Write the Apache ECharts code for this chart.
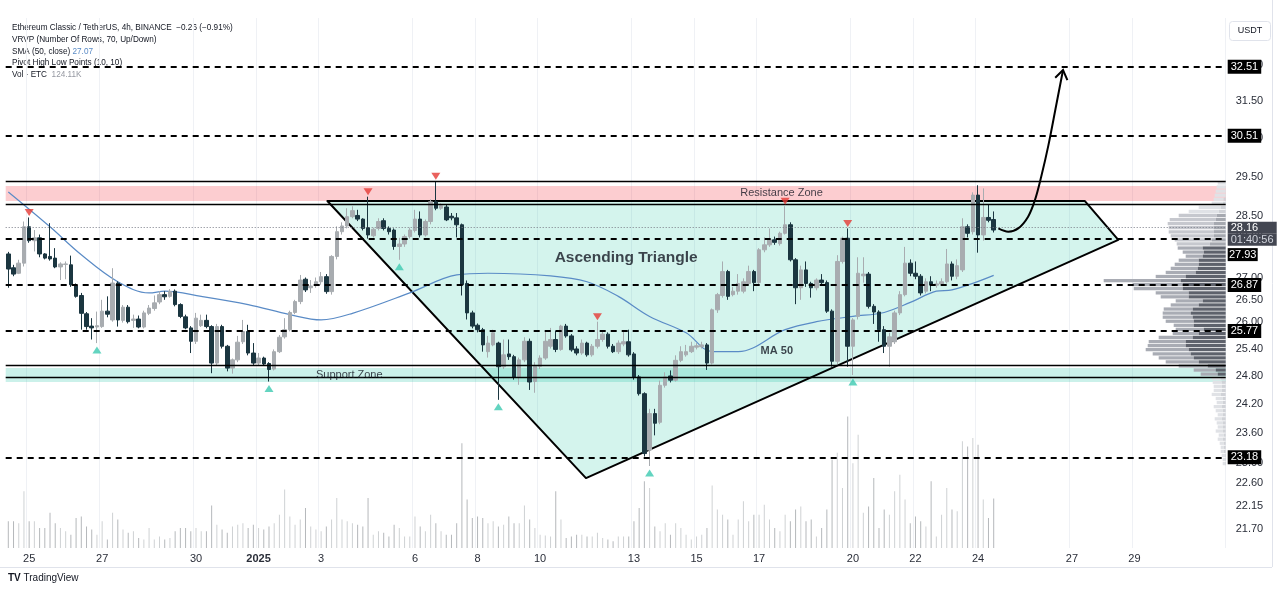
<!DOCTYPE html>
<html>
<head>
<meta charset="utf-8">
<title>ETCUSDT 4h - Ascending Triangle</title>
<script src="https://cdn.jsdelivr.net/npm/echarts@6/dist/echarts.min.js"></script>
<style>
  html, body { margin: 0; padding: 0; background: #fff; }
  #chart { width: 1280px; height: 592px; }
</style>
</head>
<body>
<div id="chart"></div>
<script>
// 4h candles, the first one opens 2024-12-24 00:00
const opens = [
  27.58, 27.25, 27.12, 27.36, 28.24, 27.90, 27.97, 27.58, 27.52, 27.48,
  27.27, 27.33, 27.32, 26.83, 26.60, 26.18, 25.90, 25.88, 25.89, 26.24,
  26.04, 26.89, 26.03, 26.33, 26.03, 26.06, 25.88, 26.19, 26.30, 26.45,
  26.62, 26.58, 26.70, 26.39, 26.11, 25.86, 25.56, 25.91, 26.03, 25.89,
  25.08, 25.89, 25.45, 24.97, 25.15, 25.55, 25.78, 25.30, 25.08, 25.19,
  25.07, 24.95, 25.33, 25.66, 25.82, 26.21, 26.46, 26.98, 26.78, 26.83,
  26.92, 27.04, 26.69, 27.52, 28.12, 28.26, 28.49, 28.52, 28.43, 28.22,
  28.02, 28.20, 28.39, 28.20, 28.16, 27.76, 27.82, 28.00, 28.15, 28.43,
  28.04, 28.37, 28.86, 28.70, 28.73, 28.50, 28.46, 28.29, 26.88, 26.20,
  25.92, 25.82, 25.33, 25.48, 25.52, 25.00, 25.28, 25.22, 24.78, 25.15,
  25.56, 24.68, 25.01, 25.19, 25.45, 25.60, 25.38, 25.90, 25.68, 25.39,
  25.30, 25.52, 25.26, 25.45, 25.60, 25.72, 25.45, 25.33, 25.50, 25.55,
  25.28, 24.78, 24.42, 23.25, 24.00, 23.82, 24.60, 24.80, 24.71, 25.14,
  25.26, 25.33, 25.43, 25.44, 25.48, 25.08, 26.27, 26.60, 27.16, 26.62,
  26.70, 26.70, 26.88, 27.16, 26.90, 27.68, 27.80, 27.92, 27.83, 28.08,
  28.29, 27.44, 26.78, 27.20, 26.88, 26.78, 26.96, 26.90, 26.24, 25.12,
  27.40, 27.96, 25.45, 26.12, 27.06, 27.10, 26.35, 26.22, 25.82, 25.45,
  25.55, 26.20, 26.62, 27.36, 27.12, 27.05, 26.70, 26.92, 26.84, 26.87,
  26.92, 27.34, 27.05, 27.20, 28.24, 28.12, 29.03, 28.04, 28.47, 28.42
];
const highs = [
  27.63, 27.32, 27.44, 28.37, 28.47, 28.16, 28.05, 27.60, 28.33, 27.72,
  27.38, 27.40, 27.54, 26.88, 26.66, 26.22, 26.08, 26.23, 26.50, 26.58,
  27.24, 26.93, 26.38, 26.38, 26.16, 26.14, 26.25, 26.38, 26.60, 26.70,
  26.70, 26.75, 26.74, 26.42, 26.16, 25.90, 26.20, 26.16, 26.16, 25.92,
  25.95, 25.93, 25.48, 25.18, 25.68, 26.04, 25.93, 25.52, 25.30, 25.22,
  25.10, 25.38, 25.70, 26.08, 26.25, 26.50, 27.08, 27.02, 26.96, 27.02,
  27.15, 27.10, 27.55, 28.25, 28.35, 28.70, 28.75, 28.66, 28.45, 28.99,
  28.22, 28.45, 28.45, 28.25, 28.20, 27.97, 28.05, 28.22, 28.66, 28.62,
  28.42, 28.92, 29.38, 28.82, 28.78, 28.58, 28.58, 28.32, 26.95, 26.25,
  25.96, 25.86, 25.68, 25.82, 25.55, 25.60, 25.60, 25.26, 25.20, 25.65,
  25.62, 25.10, 25.25, 25.77, 25.86, 25.80, 25.93, 25.95, 25.72, 25.45,
  25.60, 25.55, 25.50, 26.00, 25.78, 25.76, 25.50, 25.58, 25.78, 25.82,
  25.32, 24.82, 24.45, 24.10, 24.10, 24.70, 24.88, 24.92, 25.25, 25.45,
  25.48, 25.55, 25.52, 25.55, 25.52, 26.30, 26.66, 27.40, 27.20, 26.80,
  27.10, 27.00, 27.30, 27.20, 27.72, 27.98, 28.20, 28.00, 28.12, 28.75,
  28.35, 27.48, 27.30, 27.40, 26.92, 27.00, 27.10, 26.95, 26.28, 27.55,
  28.00, 28.20, 26.08, 27.50, 27.50, 27.15, 26.40, 26.26, 25.90, 25.75,
  26.25, 26.70, 27.75, 27.45, 27.40, 27.10, 27.00, 27.05, 26.95, 27.00,
  27.70, 27.40, 27.45, 28.45, 28.30, 29.10, 29.28, 29.20, 28.80, 28.62
];
const lows = [
  26.78, 27.05, 27.10, 27.28, 27.85, 27.64, 27.50, 27.45, 27.42, 27.24,
  26.96, 26.98, 26.80, 26.55, 25.82, 25.82, 25.60, 25.52, 25.86, 26.10,
  26.00, 25.89, 25.98, 25.96, 25.86, 25.85, 25.85, 26.15, 26.25, 26.40,
  26.50, 26.55, 26.35, 26.08, 25.83, 25.30, 25.50, 25.88, 25.85, 24.86,
  25.02, 25.40, 24.90, 24.85, 25.10, 25.50, 25.25, 25.04, 25.02, 25.02,
  24.68, 24.92, 25.30, 25.62, 25.78, 26.17, 26.40, 26.68, 26.66, 26.78,
  26.85, 26.64, 26.62, 27.45, 28.05, 28.20, 28.45, 28.38, 28.15, 27.95,
  27.98, 28.15, 28.15, 28.05, 27.68, 27.44, 27.75, 27.95, 28.10, 27.98,
  28.00, 28.30, 28.65, 28.66, 28.38, 28.40, 27.98, 26.60, 26.05, 25.85,
  25.76, 25.33, 25.20, 25.45, 24.29, 24.95, 25.15, 24.72, 24.61, 25.10,
  24.50, 24.44, 24.95, 25.15, 25.40, 25.32, 25.35, 25.64, 25.33, 25.25,
  25.26, 25.22, 25.22, 25.40, 25.55, 25.40, 25.30, 25.28, 25.45, 25.22,
  24.72, 24.38, 23.12, 22.93, 23.55, 23.78, 24.55, 24.66, 24.68, 25.10,
  25.22, 25.30, 25.38, 25.40, 24.93, 25.05, 26.20, 26.55, 26.50, 26.58,
  26.62, 26.65, 26.85, 26.70, 26.85, 27.62, 27.75, 27.80, 27.78, 28.05,
  27.40, 26.40, 26.50, 26.80, 26.55, 26.72, 26.85, 26.20, 25.00, 25.05,
  27.35, 25.00, 24.82, 26.05, 26.90, 26.30, 25.95, 25.55, 25.30, 25.00,
  25.50, 26.15, 26.58, 27.05, 26.98, 26.60, 26.65, 26.70, 26.78, 26.82,
  26.88, 26.95, 26.98, 27.15, 27.98, 28.05, 27.61, 27.90, 28.35, 28.10
];
const closes = [
  27.22, 27.10, 27.36, 28.24, 27.90, 27.97, 27.58, 27.48, 27.46, 27.27,
  27.34, 27.34, 26.85, 26.58, 26.19, 25.89, 25.86, 25.91, 26.24, 26.17,
  26.89, 26.04, 26.33, 26.00, 26.06, 25.88, 26.20, 26.31, 26.43, 26.62,
  26.57, 26.69, 26.39, 26.12, 25.86, 25.56, 26.08, 26.03, 25.89, 25.08,
  25.89, 25.45, 24.97, 25.15, 25.54, 25.78, 25.30, 25.08, 25.19, 25.06,
  24.94, 25.33, 25.65, 25.82, 26.21, 26.46, 26.96, 26.73, 26.82, 26.92,
  27.04, 26.69, 27.52, 28.12, 28.26, 28.49, 28.64, 28.43, 28.20, 28.04,
  28.18, 28.37, 28.20, 28.12, 27.76, 27.82, 28.00, 28.16, 28.43, 28.04,
  28.37, 28.86, 28.70, 28.76, 28.41, 28.46, 28.29, 26.85, 26.20, 25.90,
  25.82, 25.48, 25.52, 25.75, 25.00, 25.26, 25.22, 24.78, 25.15, 25.56,
  24.67, 25.01, 25.19, 25.56, 25.60, 25.38, 25.90, 25.68, 25.37, 25.30,
  25.52, 25.26, 25.45, 25.60, 25.72, 25.45, 25.33, 25.52, 25.55, 25.26,
  24.78, 24.42, 23.18, 24.00, 23.80, 24.60, 24.78, 24.71, 25.14, 25.33,
  25.33, 25.45, 25.46, 25.48, 25.08, 26.27, 26.62, 27.16, 26.58, 26.70,
  26.88, 26.92, 27.16, 26.90, 27.68, 27.80, 27.92, 27.86, 28.08, 28.29,
  27.44, 26.78, 27.20, 26.88, 26.78, 26.96, 26.90, 26.24, 25.12, 27.40,
  27.96, 25.45, 26.04, 27.12, 27.10, 26.35, 26.22, 25.82, 25.45, 25.66,
  26.20, 26.62, 27.36, 27.12, 27.05, 26.66, 26.92, 26.85, 26.87, 26.92,
  27.34, 27.05, 27.30, 28.24, 28.08, 29.03, 28.04, 28.47, 28.40, 28.16
];
// volume in K ETC
const volumes = [
  67, 67, 62, 142, 67, 67, 50, 50, 88, 62,
  50, 42, 33, 75, 79, 54, 46, 33, 67, 21,
  88, 71, 46, 38, 42, 25, 21, 50, 21, 29,
  21, 25, 42, 50, 50, 42, 50, 42, 42, 106,
  58, 46, 38, 54, 58, 62, 50, 58, 50, 46,
  54, 62, 83, 146, 79, 58, 71, 100, 54, 46,
  42, 54, 71, 125, 71, 67, 62, 58, 54, 125,
  33, 42, 38, 29, 58, 50, 29, 29, 79, 54,
  42, 83, 62, 42, 33, 33, 62, 262, 121, 75,
  79, 75, 62, 67, 54, 58, 79, 62, 62, 106,
  71, 50, 33, 31, 29, 142, 71, 25, 29, 33,
  33, 29, 29, 38, 25, 21, 17, 29, 29, 29,
  67, 100, 167, 150, 54, 42, 62, 33, 62, 50,
  33, 21, 29, 33, 50, 156, 96, 83, 71, 33,
  71, 117, 67, 83, 83, 108, 71, 50, 42, 83,
  67, 96, 104, 67, 71, 29, 50, 96, 221, 238,
  150, 329, 212, 283, 88, 104, 175, 50, 96, 83,
  142, 183, 121, 62, 79, 67, 54, 167, 29, 83,
  150, 96, 92, 267, 254, 275, 258, 121, 75, 124
];
const totalSlots = 234; // candles plus the empty future part of the time axis

// time axis labels (slot index -> text)
const xTickIdx = [4, 18, 36, 48, 60, 78, 90, 102, 120, 132, 144, 162, 174, 186, 204, 216];
const xTickText = ['25', '27', '30', '2025', '3', '6', '8', '10', '13', '15', '17', '20', '22', '24', '27', '29'];

// price scale labels
const yTicks = [32.5, 31.5, 30.5, 29.5, 28.5, 28, 27, 26.5, 26, 25.4, 24.8, 24.2, 23.6, 23, 22.6, 22.15, 21.7];
const yMin = 21.35, yMax = 33.87;

// drawn levels
const levels = [32.51, 30.51, 27.93, 26.87, 25.77, 23.18];
const lastPrice = 28.16;
const countdown = '01:40:56';
const resistZone = [28.88, 29.26];
const supportZone = [24.67, 24.97];

// SMA 50 as drawn
const maIdx = [0, 8, 14, 21, 27, 30, 37, 46, 54, 60, 66, 77, 86, 92, 104, 111, 117, 123, 130, 135, 140, 149, 155, 162, 168, 173, 178, 181, 189];
const maVal = [29.11, 28.24, 27.56, 26.92, 26.66, 26.70, 26.58, 26.39, 26.16, 26.04, 26.19, 26.66, 27.08, 27.12, 27.06, 26.92, 26.58, 26.12, 25.75, 25.33, 25.33, 25.82, 26.00, 26.12, 26.21, 26.44, 26.70, 26.73, 27.07];

// pivot points (candle index)
const pivotHighIdx = [4, 69, 82, 113, 149, 161];
const pivotLowIdx = [17, 50, 75, 94, 123, 162];

// ascending triangle corners (slot, price)
const triIdx = [61.2, 110.8, 212.9, 206.5];
const triPrice = [28.88, 22.69, 27.92, 28.88];

// projected move arrow (slot, price)
const arrIdx = [189.9, 191.8, 193.7, 195.6, 196.9, 198.1, 199.5, 201.0, 202.3];
const arrPrice = [28.20, 28.12, 28.20, 28.49, 28.90, 29.49, 30.32, 31.40, 32.37];

// text notes (slot, price)
const noteText = ['Resistance Zone', 'Support Zone', 'Ascending Triangle', 'MA 50'];
const noteIdx = [148.3, 65.4, 118.5, 147.4];
const notePrice = [29.08, 24.82, 27.48, 25.35];

// visible range volume profile, 70 rows from top to bottom
const vpUp = [0, 0, 0, 0, 2, 3, 5, 7, 9, 10, 12, 12, 12, 12, 14, 16, 23, 22, 23, 27, 27, 28, 30, 40, 45, 43, 43, 37, 37, 23, 27, 33, 35, 33, 32, 32, 22, 27, 33, 40, 40, 37, 35, 32, 27, 18, 10, 8, 5, 4, 4, 4, 5, 3, 3, 4, 3, 3, 4, 3, 3, 3, 2, 3, 2, 2, 2, 1, 1, 1];
const vpDown = [8, 9, 10, 11, 10, 11, 22, 30, 38, 46, 46, 45, 45, 43, 37, 33, 25, 21, 17, 20, 24, 27, 30, 30, 77, 50, 49, 33, 28, 27, 28, 29, 28, 30, 28, 20, 28, 26, 34, 37, 38, 43, 38, 35, 33, 29, 22, 17, 9, 9, 8, 8, 9, 7, 6, 8, 7, 5, 7, 6, 5, 7, 5, 5, 4, 3, 3, 3, 2, 2];
const vpValueArea = [16, 47];

const ln = Math.log;
const FONT = '"Liberation Sans", Arial, sans-serif';
const UP = '#a8acb0';
const DOWN = '#1b3640';

const t0 = Date.UTC(2024, 11, 24, 0);
const categories = [];
for (let k = 0; k < totalSlots; k++) {
  categories.push(new Date(t0 + k * 4 * 3600 * 1000).toISOString().slice(0, 16).replace('T', ' '));
}
const tickMap = new Map(xTickIdx.map((v, k) => [v, xTickText[k]]));

const candleData = opens.map((o, i) => [o, closes[i], lows[i], highs[i]].map(ln));
const vpTop = ln(Math.max(...highs));
const vpBot = ln(Math.min(...lows));
const vpStep = (vpTop - vpBot) / vpUp.length;

const chart = echarts.init(document.getElementById('chart'));

const levelLines = levels.map(v => ({ yAxis: ln(v), label: { formatter: v.toFixed(2) } }));
// 27.93 tag sits under the live price tag
levelLines[2].label = {
  formatter: '{g| }\n{b|27.93}',
  backgroundColor: 'transparent', padding: 0,
  rich: {
    g: { lineHeight: 31, height: 31 },
    b: { backgroundColor: '#000', color: '#fff', fontSize: 11, lineHeight: 13, height: 13, width: 30, align: 'center' }
  }
};
levelLines.push({
  yAxis: ln(lastPrice),
  lineStyle: { type: [1, 2], color: '#787b86', width: 1 },
  label: {
    formatter: '{g| }\n{p|' + lastPrice.toFixed(2) + '}\n{t|' + countdown + '}',
    backgroundColor: 'transparent', padding: 0,
    rich: {
      g: { lineHeight: 12, height: 12 },
      p: { backgroundColor: '#434651', color: '#fff', fontSize: 11, lineHeight: 12, height: 12, width: 46, align: 'left', padding: [0, 0, 0, 3] },
      t: { backgroundColor: '#434651', color: '#d1d4dc', fontSize: 11, lineHeight: 12, height: 12, width: 46, align: 'left', padding: [0, 0, 0, 3] }
    }
  }
});

const option = {
  animation: false,
  backgroundColor: '#fff',
  textStyle: { fontFamily: FONT },
  grid: { left: 5.7, right: 54.3, top: 18, bottom: 44 },
  xAxis: [
    {
      type: 'category',
      data: categories,
      boundaryGap: true,
      axisLine: { show: false },
      axisTick: { show: false },
      axisLabel: {
        interval: (i) => tickMap.has(i),
        formatter: (v, i) => {
          const t = tickMap.get(i) || '';
          return t === '2025' ? '{y|2025}' : t;
        },
        color: '#2a2e39',
        fontSize: 11,
        margin: 5,
        rich: { y: { fontWeight: 'bold', fontSize: 11, color: '#2a2e39' } }
      },
      splitLine: { show: true, interval: (i) => tickMap.has(i), lineStyle: { color: '#eff1f5', width: 1 } }
    },
    { type: 'value', min: -0.5, max: totalSlots - 0.5, show: false },
    { type: 'value', min: 0, max: 1220, inverse: true, show: false }
  ],
  yAxis: [
    {
      type: 'value',
      position: 'right',
      min: ln(yMin),
      max: ln(yMax),
      axisLine: { show: false },
      axisTick: { show: false },
      splitLine: { show: false },
      axisLabel: {
        customValues: yTicks.map(ln),
        formatter: (v) => Math.exp(v).toFixed(2),
        color: '#2a2e39',
        fontSize: 11,
        margin: 10
      }
    },
    { type: 'value', min: 0, max: 1325, show: false }
  ],
  series: [
    {
      name: 'triangle',
      type: 'custom',
      xAxisIndex: 1,
      yAxisIndex: 0,
      z: 1,
      silent: true,
      data: triIdx.map((x, k) => [x, ln(triPrice[k])]),
      renderItem: (params, api) => {
        if (params.dataIndex !== 0) return null;
        const pts = triIdx.map((x, k) => api.coord([x, ln(triPrice[k])]));
        return {
          type: 'polygon',
          shape: { points: pts },
          style: { fill: 'rgba(38,198,166,0.2)', stroke: '#000', lineWidth: 2, lineJoin: 'round' }
        };
      },
      markArea: {
        silent: true,
        data: [
          [{ yAxis: ln(resistZone[0]), itemStyle: { color: 'rgba(242,54,69,0.25)' } }, { yAxis: ln(resistZone[1]) }],
          [{ yAxis: ln(supportZone[0]), itemStyle: { color: 'rgba(38,198,166,0.24)' } }, { yAxis: ln(supportZone[1]) }]
        ]
      },
      markLine: {
        silent: true,
        symbol: ['none', 'none'],
        label: { show: false },
        lineStyle: { color: '#000', width: 1.3, type: 'solid' },
        data: [...resistZone, ...supportZone].map(v => ({ yAxis: ln(v) }))
      }
    },
    {
      name: 'Vol',
      type: 'bar',
      xAxisIndex: 0,
      yAxisIndex: 1,
      z: 2,
      barWidth: 1,
      silent: true,
      data: volumes.map((v, i) => ({
        value: v,
        itemStyle: { color: closes[i] >= opens[i] ? 'rgba(160,165,170,0.5)' : 'rgba(120,125,132,0.55)' }
      }))
    },
    {
      name: 'VRVP',
      type: 'custom',
      xAxisIndex: 2,
      yAxisIndex: 0,
      z: 2,
      silent: true,
      data: vpUp.map((u, r) => [r, u, vpDown[r]]),
      renderItem: (params, api) => {
        const r = api.value(0), up = api.value(1), dn = api.value(2);
        const hi = vpTop - r * vpStep, lo = hi - vpStep;
        const a = api.coord([0, hi]);
        const b = api.coord([up, lo]);
        const c = api.coord([up + dn, lo]);
        const inVA = r >= vpValueArea[0] && r <= vpValueArea[1];
        const mid = r < vpValueArea[0] && r > 7;
        const h = Math.max(b[1] - a[1] - 0.8, 1);
        return {
          type: 'group',
          children: [
            { type: 'rect', shape: { x: c[0], y: a[1], width: b[0] - c[0], height: h }, style: { fill: inVA ? '#a9acb4' : (mid ? '#c6c8ce' : '#e0e2e6') } },
            { type: 'rect', shape: { x: b[0], y: a[1], width: a[0] - b[0], height: h }, style: { fill: inVA ? '#5e626c' : (mid ? '#a6a9b0' : '#d0d2d7') } }
          ]
        };
      }
    },
    {
      name: 'SMA 50',
      type: 'line',
      xAxisIndex: 1,
      yAxisIndex: 0,
      z: 3,
      silent: true,
      smooth: 0.35,
      showSymbol: false,
      lineStyle: { color: '#5a8bc6', width: 1.2 },
      data: maIdx.map((x, k) => [x, ln(maVal[k])])
    },
    {
      name: 'ETCUSDT',
      type: 'candlestick',
      xAxisIndex: 0,
      yAxisIndex: 0,
      z: 4,
      silent: true,
      barWidth: 4,
      itemStyle: { color: UP, color0: DOWN, borderColor: UP, borderColor0: DOWN, borderWidth: 1 },
      data: candleData,
      markLine: {
        silent: true,
        symbol: ['none', 'none'],
        lineStyle: { color: '#000', width: 2, type: [6, 5] },
        label: {
          show: true,
          position: 'end',
          distance: 2,
          color: '#fff',
          backgroundColor: '#000',
          padding: [1, 3],
          fontSize: 11,
          lineHeight: 12
        },
        data: levelLines
      }
    },
    {
      name: 'pivot high',
      type: 'scatter',
      xAxisIndex: 0,
      yAxisIndex: 0,
      z: 5,
      silent: true,
      symbol: 'triangle',
      symbolRotate: 180,
      symbolSize: [9, 7],
      symbolOffset: [0, -5],
      itemStyle: { color: '#e53935' },
      data: pivotHighIdx.map(i => [i, ln(highs[i])])
    },
    {
      name: 'pivot low',
      type: 'scatter',
      xAxisIndex: 0,
      yAxisIndex: 0,
      z: 5,
      silent: true,
      symbol: 'triangle',
      symbolSize: [9, 7],
      symbolOffset: [0, 7],
      itemStyle: { color: '#3cc9b0' },
      data: pivotLowIdx.map(i => [i, ln(lows[i])])
    },
    {
      name: 'notes',
      type: 'scatter',
      xAxisIndex: 1,
      yAxisIndex: 0,
      z: 6,
      silent: true,
      symbolSize: 1,
      itemStyle: { color: 'rgba(0,0,0,0)' },
      label: { show: true, position: 'inside', formatter: '{b}', color: '#131722', fontSize: 11 },
      data: noteText.map((t, k) => {
        const item = { name: t, value: [noteIdx[k], ln(notePrice[k])] };
        if (t === 'Ascending Triangle') item.label = { fontSize: 15.5, fontWeight: 'bold', color: '#131722' };
        if (t === 'MA 50') item.label = { fontSize: 11, fontWeight: 'bold', color: '#131722' };
        return item;
      })
    },
    {
      name: 'arrow',
      type: 'custom',
      xAxisIndex: 1,
      yAxisIndex: 0,
      z: 6,
      silent: true,
      data: arrIdx.map((x, k) => [x, ln(arrPrice[k])]),
      renderItem: (params, api) => {
        if (params.dataIndex !== 0) return null;
        const pts = arrIdx.map((x, k) => api.coord([x, ln(arrPrice[k])]));
        const n = pts.length;
        const a = pts[n - 2], b = pts[n - 1];
        const ang = Math.atan2(b[1] - a[1], b[0] - a[0]);
        const L = 11, s = 0.6;
        const w1 = [b[0] - L * Math.cos(ang - s), b[1] - L * Math.sin(ang - s)];
        const w2 = [b[0] - L * Math.cos(ang + s), b[1] - L * Math.sin(ang + s)];
        return {
          type: 'group',
          children: [
            { type: 'polyline', shape: { points: pts, smooth: 0.35 }, style: { stroke: '#000', lineWidth: 2, fill: null } },
            { type: 'polyline', shape: { points: [w1, b, w2] }, style: { stroke: '#000', lineWidth: 2, fill: null } }
          ]
        };
      }
    }
  ],
  graphic: [
    {
      type: 'text', left: 12, top: 24,
      style: { text: 'Ethereum Classic / TetherUS, 4h, BINANCE  \u22120.26 (\u22120.91%)', font: '8.2px ' + FONT, fill: '#131722' }
    },
    {
      type: 'text', left: 12, top: 36,
      style: { text: 'VRVP (Number Of Rows, 70, Up/Down)', font: '8.2px ' + FONT, fill: '#131722' }
    },
    {
      type: 'text', left: 12, top: 48,
      style: {
        text: '{a|SMA (50, close)} {b|27.07}', font: '8.2px ' + FONT,
        rich: { a: { fill: '#131722', font: '8.2px ' + FONT }, b: { fill: '#5a8bc6', font: '8.2px ' + FONT } }
      }
    },
    {
      type: 'text', left: 12, top: 59,
      style: { text: 'Pivot High Low Points (10, 10)', font: '8.2px ' + FONT, fill: '#131722' }
    },
    {
      type: 'text', left: 12, top: 71,
      style: {
        text: '{a|Vol \u00b7 ETC}  {b|124.11K}', font: '8.2px ' + FONT,
        rich: { a: { fill: '#131722', font: '8.2px ' + FONT }, b: { fill: '#9598a1', font: '8.2px ' + FONT } }
      }
    },
    {
      type: 'group', left: 1229, top: 21,
      children: [
        { type: 'rect', shape: { x: 0, y: 0, width: 41, height: 19, r: 3 }, style: { fill: '#fff', stroke: '#e0e3eb', lineWidth: 1 } },
        { type: 'text', x: 20.5, y: 9.5, style: { text: 'USDT', font: '9px ' + FONT, fill: '#131722', align: 'center', verticalAlign: 'middle' } }
      ]
    },
    { type: 'line', shape: { x1: 0, y1: 567.5, x2: 1272, y2: 567.5 }, style: { stroke: '#e0e3eb', lineWidth: 1 } },
    { type: 'line', shape: { x1: 1272.5, y1: 0, x2: 1272.5, y2: 567 }, style: { stroke: '#e0e3eb', lineWidth: 1 } },
    {
      type: 'text', left: 8, top: 573,
      style: {
        text: '{l|TV} {t|TradingView}', font: '10px ' + FONT,
        rich: { l: { fill: '#131722', font: 'bold 10px ' + FONT }, t: { fill: '#131722', font: '10px ' + FONT } }
      }
    }
  ]
};

chart.setOption(option);
window.addEventListener('resize', () => chart.resize());
</script>
</body>
</html>
